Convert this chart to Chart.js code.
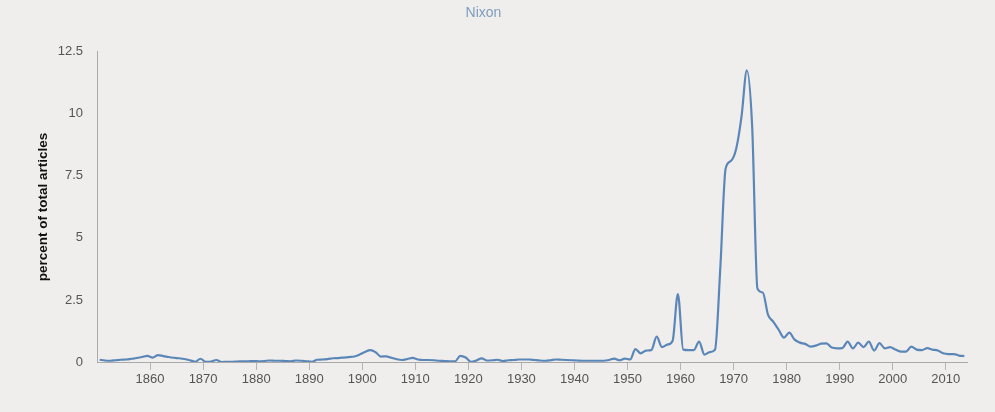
<!DOCTYPE html>
<html>
<head>
<meta charset="utf-8">
<title>Nixon</title>
<script src="https://cdn.jsdelivr.net/npm/chart.js@4"></script>
<style>
  body { margin: 0; background: #efeeec; }
  canvas { display: block; }
</style>
</head>
<body>
<canvas id="myChart" width="995" height="412"></canvas>
<script>
// percent of total articles mentioning "Nixon", one value per year from 1851
var firstYear = 1851;
var share = [
  0.09, 0.06, 0.05, 0.07, 0.09, 0.10, 0.13, 0.16, 0.20, 0.25, // 1851-1860
  0.18, 0.28, 0.24, 0.20, 0.17, 0.15, 0.12, 0.07, 0.01, 0.13, // 1861-1870
  0.01, 0.02, 0.08, 0.00, 0.01, 0.01, 0.02, 0.03, 0.03, 0.04, // 1871-1880
  0.03, 0.04, 0.06, 0.05, 0.05, 0.04, 0.03, 0.06, 0.05, 0.03, // 1881-1890
  0.01, 0.09, 0.10, 0.12, 0.15, 0.16, 0.18, 0.20, 0.22, 0.30, // 1891-1900
  0.40, 0.48, 0.40, 0.22, 0.23, 0.17, 0.11, 0.08, 0.12, 0.17, // 1901-1910
  0.10, 0.08, 0.08, 0.07, 0.05, 0.04, 0.03, 0.03, 0.25, 0.18, // 1911-1920
  0.01, 0.06, 0.15, 0.06, 0.07, 0.09, 0.04, 0.07, 0.08, 0.10, // 1921-1930
  0.10, 0.10, 0.08, 0.06, 0.05, 0.07, 0.10, 0.09, 0.08, 0.07, // 1931-1940
  0.06, 0.05, 0.05, 0.05, 0.05, 0.05, 0.08, 0.14, 0.07, 0.14, // 1941-1950
  0.10, 0.52, 0.35, 0.46, 0.48, 1.02, 0.60, 0.70, 0.85, 2.74, // 1951-1960
  0.50, 0.48, 0.48, 0.82, 0.30, 0.40, 0.50, 3.80, 7.80, 8.10, // 1961-1970
  8.60, 9.90, 11.75, 9.50, 2.95, 2.80, 1.90, 1.62, 1.30, 0.98, // 1971-1980
  1.18, 0.90, 0.78, 0.73, 0.62, 0.66, 0.74, 0.75, 0.58, 0.55, // 1981-1990
  0.56, 0.82, 0.55, 0.78, 0.60, 0.82, 0.46, 0.76, 0.55, 0.60, // 1991-2000
  0.50, 0.42, 0.42, 0.62, 0.50, 0.48, 0.56, 0.50, 0.46, 0.35, // 2001-2010
  0.32, 0.32, 0.26, 0.24                                      // 2011-2014
];
var yTicks = ['0', '2.5', '5', '7.5', '10', '12.5'];

var years = share.map(function (v, i) { return firstYear + i; });
// each year is drawn in the middle of the span that ends at its tick
var points = share.map(function (v, i) { return { x: years[i] - 0.5, y: v }; });

var font = 'Liberation Sans, Arial, sans-serif';

var ctx = document.getElementById('myChart').getContext('2d');
var chart = new Chart(ctx, {
    type: 'line',
    data: {
        datasets: [{
            label: 'Nixon',
            data: points,
            borderColor: '#5b87b8',
            borderWidth: 2.2,
            pointRadius: 0,
            fill: false,
            cubicInterpolationMode: 'monotone'
        }]
    },
    options: {
        responsive: false,
        animation: false,
        layout: { padding: { left: 0, right: 28, top: 0, bottom: 0 } },
        plugins: {
            legend: { display: false },
            tooltip: { enabled: false },
            title: {
                display: true,
                text: 'Nixon',
                color: '#7f9dbd',
                font: { family: font, size: 14, weight: 'normal' },
                padding: { top: 5, bottom: 30 }
            }
        },
        scales: {
            x: {
                type: 'linear',
                min: 1850,
                max: 2014,
                afterFit: function (scale) { scale.height = 50; },
                grid: { drawOnChartArea: false, drawTicks: true, tickLength: 8, color: '#b5b5b5' },
                border: { display: true, color: '#aaaaaa' },
                ticks: {
                    stepSize: 10,
                    includeBounds: false,
                    autoSkip: false,
                    maxRotation: 0,
                    padding: 2,
                    color: '#555555',
                    font: { family: font, size: 13 },
                    callback: function (v) { return v === 1850 ? null : String(v); }
                }
            },
            y: {
                min: 0,
                max: 12.5,
                afterFit: function (scale) { scale.width = 97; },
                grid: { display: false, drawTicks: false },
                border: { display: true, color: '#aaaaaa' },
                title: {
                    display: true,
                    text: 'percent of total articles',
                    color: '#111111',
                    font: { family: font, size: 13.5, weight: 'bold' },
                    padding: { top: 35, bottom: 0 }
                },
                ticks: {
                    stepSize: 2.5,
                    padding: 14,
                    color: '#555555',
                    font: { family: font, size: 13 },
                    callback: function (v, i) { return yTicks[i]; }
                }
            }
        }
    }
});
</script>
</body>
</html>
